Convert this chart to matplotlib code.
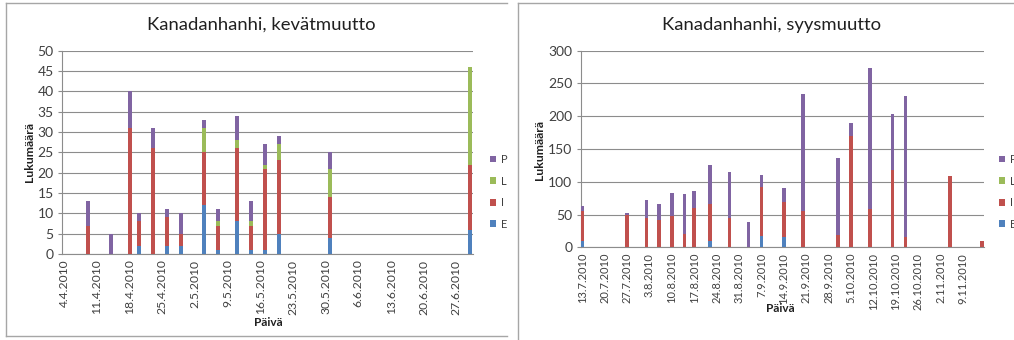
import matplotlib
matplotlib.use("Agg")
import matplotlib.pyplot as plt
import matplotlib.dates as mdates
from matplotlib.lines import Line2D
from datetime import datetime
import numpy as np

plt.rcParams["font.family"] = ["Lato", "DejaVu Sans"]

# ---- data -------------------------------------------------------------
series_names = ["E", "I", "L", "P"]
series_colors = ["#4F81BD", "#C0504D", "#9BBB59", "#8064A2"]

spring_dates = ["9.4.2010", "14.4.2010", "18.4.2010", "20.4.2010", "23.4.2010",
                "26.4.2010", "29.4.2010", "4.5.2010", "7.5.2010", "11.5.2010",
                "14.5.2010", "17.5.2010", "20.5.2010", "31.5.2010", "30.6.2010"]
spring_E = [0, 0, 0, 2, 0, 2, 2, 12, 1, 8, 1, 1, 5, 4, 6]
spring_I = [7, 0, 31, 6, 26, 7, 3, 13, 6, 18, 6, 20, 18, 10, 16]
spring_L = [0, 0, 0, 0, 0, 0, 0, 6, 1, 2, 1, 1, 4, 7, 24]
spring_P = [6, 5, 9, 2, 5, 2, 5, 2, 3, 6, 5, 5, 2, 4, 0]
spring_ticks = ["4.4.2010", "11.4.2010", "18.4.2010", "25.4.2010", "2.5.2010",
                "9.5.2010", "16.5.2010", "23.5.2010", "30.5.2010", "6.6.2010",
                "13.6.2010", "20.6.2010", "27.6.2010"]
spring_range = ["4.4.2010", "30.6.2010"]

autumn_dates = ["13.7.2010", "27.7.2010", "2.8.2010", "6.8.2010", "10.8.2010",
                "14.8.2010", "17.8.2010", "22.8.2010", "28.8.2010", "3.9.2010",
                "7.9.2010", "14.9.2010", "20.9.2010", "1.10.2010", "5.10.2010",
                "11.10.2010", "18.10.2010", "22.10.2010", "5.11.2010", "15.11.2010"]
autumn_E = [10, 0, 0, 0, 0, 0, 0, 9, 0, 0, 17, 16, 0, 0, 0, 0, 0, 0, 0, 0]
autumn_I = [45, 49, 45, 41, 48, 20, 60, 57, 45, 0, 75, 53, 56, 19, 170, 58, 118, 15, 109, 9]
autumn_L = [0, 1, 0, 0, 0, 0, 0, 0, 0, 0, 0, 0, 0, 0, 0, 0, 0, 0, 0, 0]
autumn_P = [8, 3, 27, 25, 35, 62, 26, 60, 70, 39, 19, 21, 178, 118, 19, 215, 85, 216, 0, 0]
autumn_ticks = ["13.7.2010", "20.7.2010", "27.7.2010", "3.8.2010", "10.8.2010",
                "17.8.2010", "24.8.2010", "31.8.2010", "7.9.2010", "14.9.2010",
                "21.9.2010", "28.9.2010", "5.10.2010", "12.10.2010", "19.10.2010",
                "26.10.2010", "2.11.2010", "9.11.2010"]
autumn_range = ["13.7.2010", "15.11.2010"]


def to_num(labels):
    return mdates.date2num([datetime.strptime(s, "%d.%m.%Y") for s in labels])


W, H = 1014, 340
fig = plt.figure(figsize=(W / 100, H / 100), dpi=100)


def px_axes(x0, y0, x1, y1):
    return fig.add_axes([x0 / W, 1 - y1 / H, (x1 - x0) / W, (y1 - y0) / H])


grid_c = "#8c8c8c"
text_c = "#404040"


def draw_panel(ax, dates, stacks, ticks, drange, ymax, ystep, bar_w, xfs):
    x = to_num(dates)
    bottom = np.zeros(len(dates))
    handles = []
    for name, vals, col in zip(series_names, stacks, series_colors):
        vals = np.array(vals, dtype=float)
        h = ax.bar(x, vals, width=bar_w, bottom=bottom, color=col,
                   label=name, linewidth=0, zorder=3)
        handles.append(h)
        bottom += vals
    lo, hi = to_num(drange)
    ax.set_xlim(lo - 0.5, hi + 0.5)
    ax.set_ylim(0, ymax)
    ax.set_yticks(np.arange(0, ymax + 1, ystep))
    ax.set_xticks(to_num(ticks))
    ax.set_xticklabels(ticks, rotation=90, fontsize=xfs, color=text_c)
    ax.tick_params(axis="x", length=0, pad=4)
    ax.tick_params(axis="y", length=3, color=grid_c, labelsize=10,
                   labelcolor=text_c, pad=3)
    ax.yaxis.grid(True, color=grid_c, linewidth=0.8, zorder=0)
    ax.set_axisbelow(True)
    for s in ("top", "right"):
        ax.spines[s].set_visible(False)
    for s in ("left", "bottom"):
        ax.spines[s].set_color(grid_c)
        ax.spines[s].set_linewidth(0.8)
    return handles


ax1 = px_axes(62, 50.7, 472.7, 254)
h1 = draw_panel(ax1, spring_dates, [spring_E, spring_I, spring_L, spring_P],
                spring_ticks, spring_range, 50, 5, 0.85, 8.7)

ax2 = px_axes(580.7, 50.7, 983.7, 247.3)
h2 = draw_panel(ax2, autumn_dates, [autumn_E, autumn_I, autumn_L, autumn_P],
                autumn_ticks, autumn_range, 300, 50, 1.1, 8.0)


def fx(px):
    return px / W


def fy(py):
    return 1 - py / H


# titles and axis titles
fig.text(fx(261.7), fy(25), "Kanadanhanhi, kevätmuutto", ha="center",
         va="center", fontsize=13.3, color="#202020")
fig.text(fx(771.7), fy(25), "Kanadanhanhi, syysmuutto", ha="center",
         va="center", fontsize=13.3, color="#202020")
fig.text(fx(29.5), fy(152), "Lukumäärä", rotation=90, ha="center",
         va="center", fontsize=8.8, fontweight="bold", color="#202020")
fig.text(fx(540), fy(150), "Lukumäärä", rotation=90, ha="center",
         va="center", fontsize=8.8, fontweight="bold", color="#202020")
fig.text(fx(268), fy(323), "Päivä", ha="center", va="center",
         fontsize=8.5, fontweight="bold", color="#202020")
fig.text(fx(780), fy(309), "Päivä", ha="center", va="center",
         fontsize=8.5, fontweight="bold", color="#202020")

# legends, top entry first
for handles, xleft in ((h1, 490), (h2, 999)):
    hs = handles[::-1]
    fig.legend(hs, [h.get_label() for h in hs], loc="upper left",
               bbox_to_anchor=(fx(xleft), fy(154)), frameon=False,
               fontsize=8, handlelength=0.55, handleheight=0.55,
               handletextpad=0.4, labelspacing=0.95, borderpad=0,
               borderaxespad=0, labelcolor=text_c)

# chart area frames
frame_c = "#a6a6a6"
for xs, ys in (([6, 6], [3, 336]), ([6, 507], [3, 3]), ([6, 507], [336, 336]),
               ([518, 518], [3, 340]), ([518, 1014], [3, 3])):
    fig.add_artist(Line2D([fx(v) for v in xs], [fy(v) for v in ys],
                          color=frame_c, linewidth=1.0))

fig.savefig("out.png", dpi=100, facecolor="white")
